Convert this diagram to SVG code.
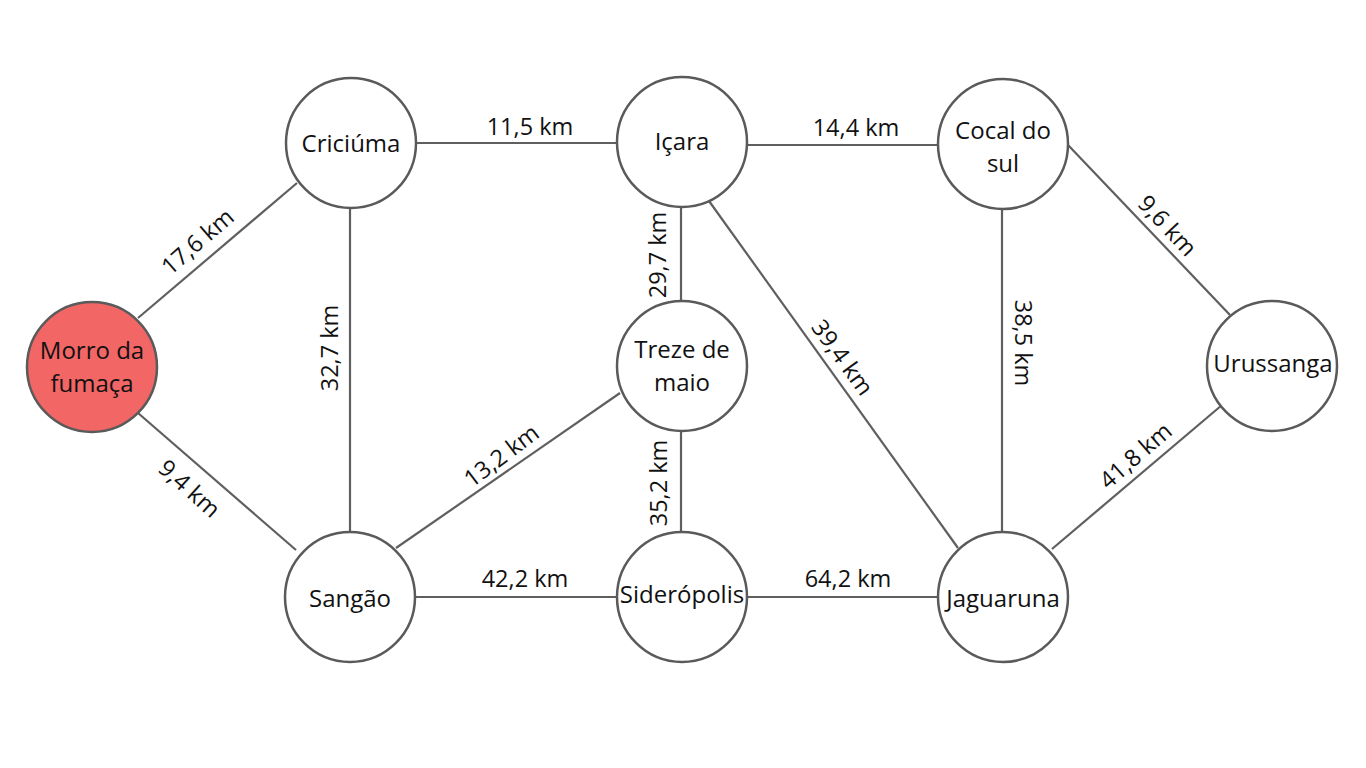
<svg xmlns="http://www.w3.org/2000/svg" width="1366" height="768" viewBox="0 0 1366 768">
<style>
.n{fill:#fff;stroke:#5a5a5a;stroke-width:2.5}
.red{fill:#f26666}
.t{font-family:"Open Sans","Liberation Sans",sans-serif;font-size:24px;fill:#111;text-anchor:middle;dominant-baseline:central}
.e{stroke:#5f5f5f;stroke-width:2.2;fill:none}
.l{font-family:"Open Sans","Liberation Sans",sans-serif;font-size:23.5px;fill:#111;text-anchor:middle;dominant-baseline:central}
</style>
<rect width="1366" height="768" fill="#fff"/>
<g id="connectors">
<line class="e" x1="138" y1="318" x2="297" y2="183"/>
<line class="e" x1="138" y1="413" x2="296" y2="550"/>
<line class="e" x1="350" y1="208" x2="350" y2="532"/>
<line class="e" x1="416" y1="143" x2="617" y2="143"/>
<line class="e" x1="747" y1="145" x2="938" y2="145"/>
<line class="e" x1="681" y1="207" x2="681" y2="301"/>
<line class="e" x1="681" y1="430" x2="681" y2="532"/>
<line class="e" x1="620" y1="393" x2="396" y2="548"/>
<line class="e" x1="415" y1="597" x2="617" y2="597"/>
<line class="e" x1="747" y1="597" x2="938" y2="597"/>
<line class="e" x1="709" y1="201" x2="958" y2="548"/>
<line class="e" x1="1002" y1="209" x2="1002" y2="532"/>
<line class="e" x1="1068" y1="145" x2="1230" y2="315"/>
<line class="e" x1="1052" y1="549" x2="1222" y2="405"/>
<text class="l" transform="translate(197,241) rotate(-41)">17,6 km</text>
<text class="l" transform="translate(190,488) rotate(42)">9,4 km</text>
<text class="l" transform="translate(329,348) rotate(-90)">32,7 km</text>
<text class="l" transform="translate(657,255) rotate(-90)">29,7 km</text>
<text class="l" transform="translate(658,483) rotate(-90)">35,2 km</text>
<text class="l" transform="translate(501,455) rotate(-37)">13,2 km</text>
<text class="l" transform="translate(843,357) rotate(54)">39,4 km</text>
<text class="l" transform="translate(1024,343) rotate(90)">38,5 km</text>
<text class="l" transform="translate(1168,225) rotate(47)">9,6 km</text>
<text class="l" transform="translate(1135,455) rotate(-41)">41,8 km</text>
<text class="l" x="530" y="126">11,5 km</text>
<text class="l" x="856" y="127">14,4 km</text>
<text class="l" x="525" y="578">42,2 km</text>
<text class="l" x="848" y="578">64,2 km</text>
</g>
<g id="morro"><circle class="n red" cx="92" cy="367" r="65"/><text class="t" x="92" y="349">Morro da</text><text class="t" x="92" y="382">fumaça</text></g>
<g id="criciuma"><circle class="n" cx="351" cy="143" r="65"/><text class="t" x="351" y="142">Criciúma</text></g>
<g id="icara"><circle class="n" cx="682" cy="142" r="65"/><text class="t" x="682" y="140">Içara</text></g>
<g id="cocal"><circle class="n" cx="1003" cy="144" r="65"/><text class="t" x="1003" y="129">Cocal do</text><text class="t" x="1003" y="162">sul</text></g>
<g id="urussanga"><circle class="n" cx="1272" cy="366" r="65"/><text class="t" x="1273" y="362">Urussanga</text></g>
<g id="treze"><circle class="n" cx="682" cy="366" r="65"/><text class="t" x="682" y="348">Treze de</text><text class="t" x="682" y="381">maio</text></g>
<g id="sangao"><circle class="n" cx="350" cy="597" r="65"/><text class="t" x="350" y="597">Sangão</text></g>
<g id="sideropolis"><circle class="n" cx="682" cy="597" r="65"/><text class="t" x="682" y="593">Siderópolis</text></g>
<g id="jaguaruna"><circle class="n" cx="1003" cy="597" r="65"/><text class="t" x="1003" y="597">Jaguaruna</text></g>
</svg>
